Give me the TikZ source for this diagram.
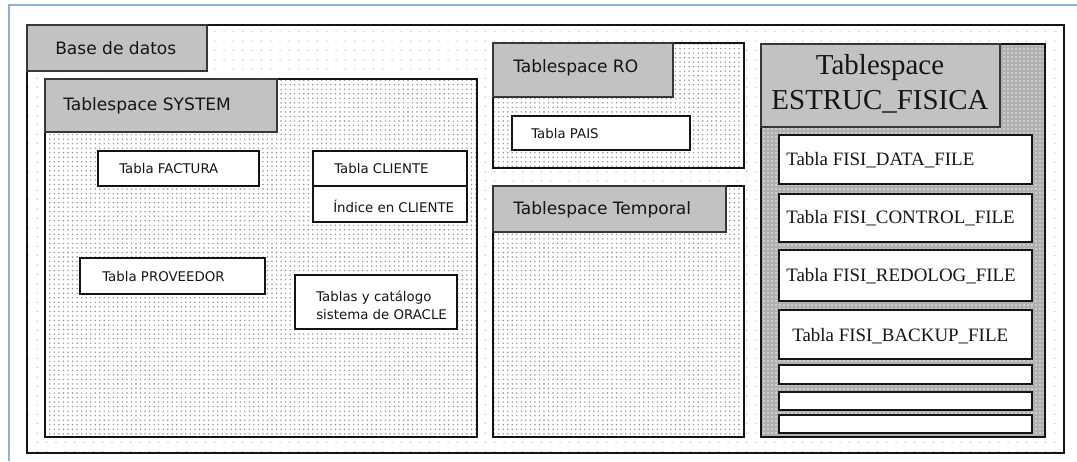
\documentclass[tikz,border=0pt]{standalone}
\usepackage{fontspec}
\setmainfont{Liberation Serif}
\newfontfamily\uifont{DejaVu Sans}
\usetikzlibrary{fit,patterns.meta}
\definecolor{framebl}{HTML}{8FAFDA}
\definecolor{labelgray}{HTML}{C2C2C2}
\definecolor{ruleblk}{HTML}{141414}
\definecolor{inkgray}{HTML}{151515}

\begin{document}
\begin{tikzpicture}[x=0.75pt,y=-0.75pt,
  dbarea/.style={draw=ruleblk, line width=1.6pt, inner sep=0pt,
    preaction={fill=white}, pattern={Dots[distance=7pt,radius=0.5pt]}, pattern color=gray!55},
  tsarea/.style={draw=ruleblk, line width=1.6pt, inner sep=0pt,
    preaction={fill=white}, pattern={Dots[distance=3.4pt,radius=0.62pt]}, pattern color=gray!85},
  fisiarea/.style={draw=ruleblk, line width=1.6pt, inner sep=0pt,
    preaction={fill=gray!62}, pattern={Dots[distance=3pt,radius=0.6pt]}, pattern color=white!85!gray},
  tslabel/.style={draw=ruleblk!85, line width=1.3pt, fill=labelgray, inner sep=0pt},
  itembox/.style={draw=ruleblk, line width=1.3pt, fill=white, inner sep=0pt},
  uitxt/.style={font=\uifont\fontsize{12.8}{15}\selectfont, text=inkgray, inner sep=0pt, anchor=west},
  smalltxt/.style={font=\uifont\fontsize{10}{13.5}\selectfont, text=inkgray, inner sep=0pt, anchor=west},
  fisitxt/.style={font=\fontsize{14.2}{17}\selectfont, text=inkgray, inner sep=0pt, anchor=west}
]
\useasboundingbox (0,0) rectangle (1077,461);

% page frame
\coordinate (ftl) at (9,4.5);
\coordinate (ftr) at (1077,4.5);
\coordinate (fbl) at (9,461);
\draw[framebl, line width=1.5pt] (ftr) -- (ftl) -- (fbl);

% database
\node[dbarea, fit={(27,25) (1064,453)}] (db) {};
\node[tslabel, fit={(27,25) (207,71)}] (dblab) {};
\node[uitxt] (dbtxt) at (55,48) {Base de datos};

% tablespace SYSTEM
\node[tsarea, fit={(45,79) (477,437)}] (sys) {};
\node[tslabel, fit={(45,79) (277,132)}] (syslab) {};
\node[uitxt] (systxt) at (63,106) {Tablespace SYSTEM};
\node[itembox, fit={(98,151) (259,186)}] (fact) {};
\node[smalltxt] (facttxt) at (119,169) {Tabla FACTURA};
\node[itembox, fit={(313,151) (467,186)}] (cli) {};
\node[smalltxt] (clitxt) at (334,169) {Tabla CLIENTE};
\node[itembox, fit={(313,186) (467,222)}] (idx) {};
\node[smalltxt] (idxtxt) at (333,206) {Índice en CLIENTE};
\node[itembox, fit={(80,258) (265,294)}] (prov) {};
\node[smalltxt] (provtxt) at (102,277) {Tabla PROVEEDOR};
\node[itembox, fit={(295,275) (457,329)}] (cat) {};
\node[smalltxt, align=left] (cattxt) at (316,305) {Tablas y catálogo\\sistema de ORACLE};

% tablespace RO
\node[tsarea, fit={(493,43) (744,168)}] (ro) {};
\node[tslabel, fit={(493,43) (673,97)}] (rolab) {};
\node[uitxt] (rotxt) at (513,68) {Tablespace RO};
\node[itembox, fit={(512,116) (690,150)}] (pais) {};
\node[smalltxt] (paistxt) at (531,134) {Tabla PAIS};

% tablespace Temporal
\node[tsarea, fit={(493,186) (744,437)}] (tmp) {};
\node[tslabel, fit={(493,186) (726,232)}] (tmplab) {};
\node[uitxt] (tmptxt) at (513,210) {Tablespace Temporal};

% tablespace ESTRUC_FISICA
\node[fisiarea, fit={(761,44) (1045,437)}] (fis) {};
\node[tslabel, fit={(761,44) (1000,127)}] (fislab) {};
\node[font=\fontsize{21.7}{26}\selectfont, text=inkgray, align=center, inner sep=0pt] (fistxt) at (880,84) {Tablespace\\ESTRUC\_FISICA};

\node[itembox, fit={(779,135) (1032,184)}] (f1) {};
\node[fisitxt] (f1txt) at (786,160) {Tabla FISI\_DATA\_FILE};
\node[itembox, fit={(779,194) (1032,242)}] (f2) {};
\node[fisitxt] (f2txt) at (786,218) {Tabla FISI\_CONTROL\_FILE};
\node[itembox, fit={(779,250) (1032,301)}] (f3) {};
\node[fisitxt] (f3txt) at (786,276) {Tabla FISI\_REDOLOG\_FILE};
\node[itembox, fit={(779,310) (1032,359)}] (f4) {};
\node[fisitxt] (f4txt) at (792,336) {Tabla FISI\_BACKUP\_FILE};
\node[itembox, fit={(779,365) (1032,384)}] (f5) {};
\node[itembox, fit={(779,392) (1032,410)}] (f6) {};
\node[itembox, fit={(779,415) (1032,433)}] (f7) {};
\end{tikzpicture}
\end{document}
